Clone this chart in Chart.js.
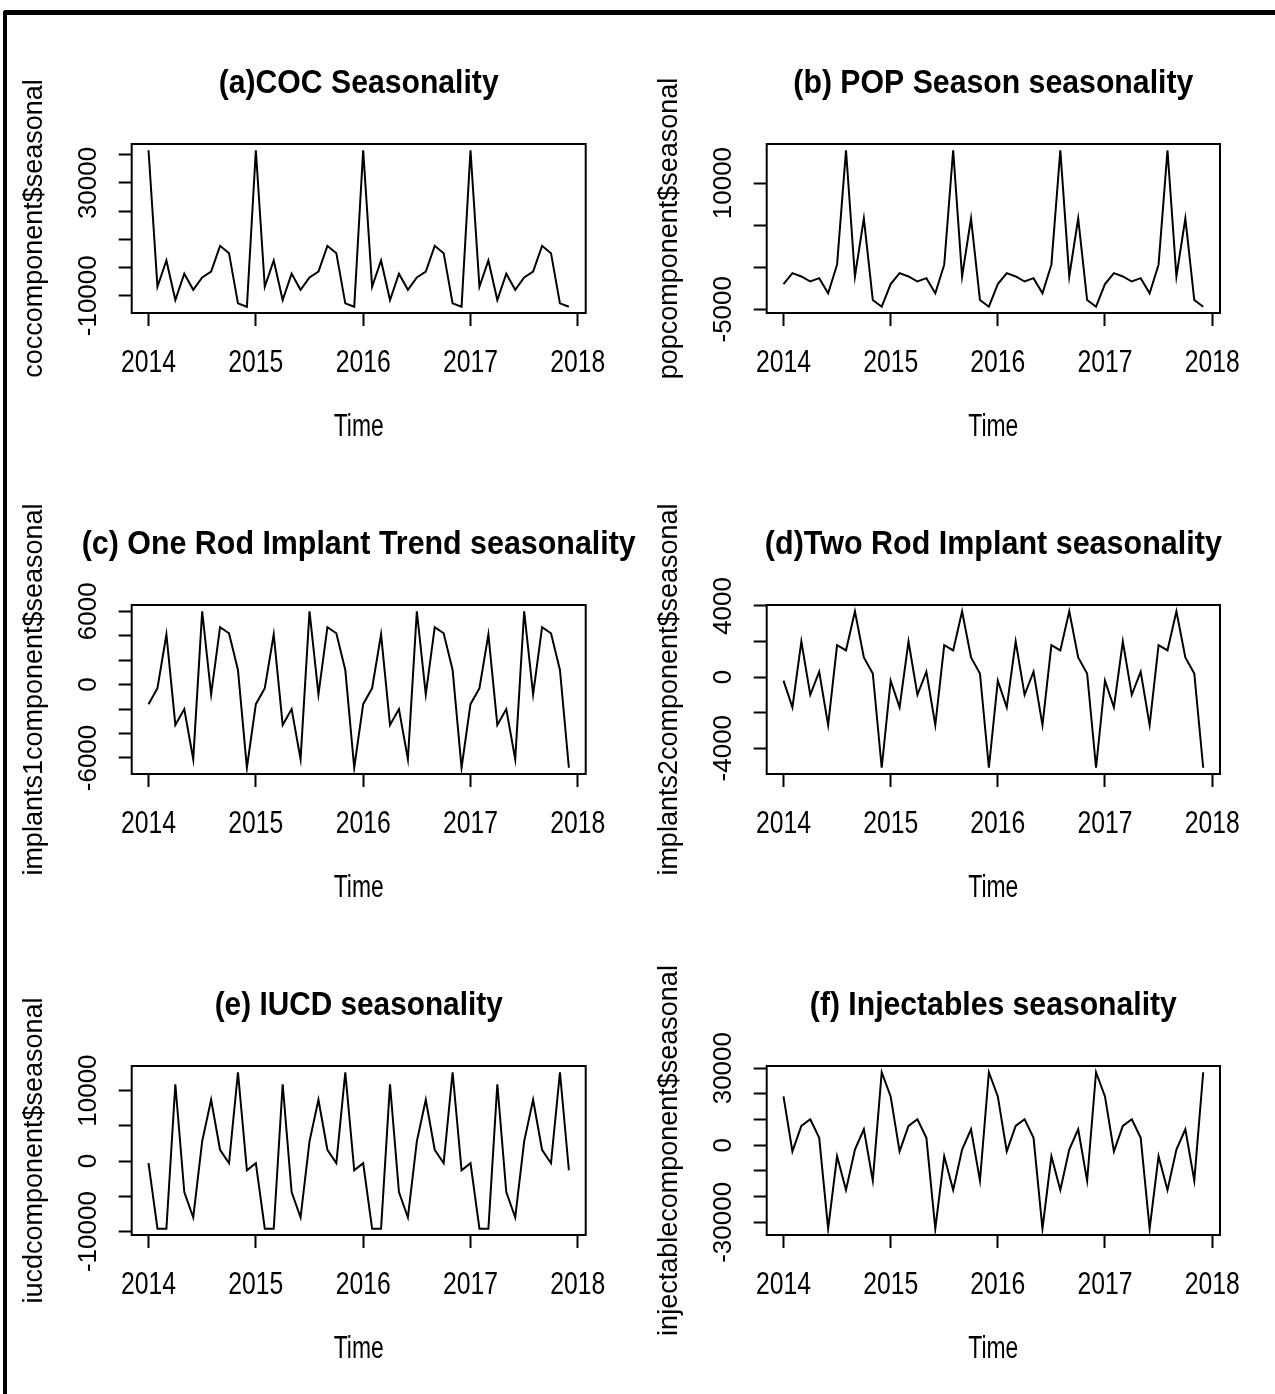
<!DOCTYPE html>
<html>
<head>
<meta charset="utf-8">
<title>Seasonality of contraceptive uptake</title>
<script src="https://cdn.jsdelivr.net/npm/chart.js@4.4.1/dist/chart.umd.min.js"></script>
<style>
  body { margin: 0; background: #fff; }
  #page { position: relative; width: 1275px; height: 1394px; overflow: hidden; }
  #frame {
    position: absolute; left: 3px; top: 10px; width: 1290px; height: 1400px;
    border-top: 5px solid #000; border-left: 4px solid #000; border-top-left-radius: 3px;
  }
  canvas { position: absolute; }
</style>
</head>
<body>
<div id="page">
  <div id="frame"></div>
  <canvas id="coc" width="637" height="461" style="left:0;top:0"></canvas>
  <canvas id="pop" width="638" height="461" style="left:637px;top:0"></canvas>
  <canvas id="imp1" width="637" height="461" style="left:0;top:461px"></canvas>
  <canvas id="imp2" width="638" height="461" style="left:637px;top:461px"></canvas>
  <canvas id="iucd" width="637" height="472" style="left:0;top:922px"></canvas>
  <canvas id="inj" width="638" height="472" style="left:637px;top:922px"></canvas>
</div>
<script>
// monthly seasonal components, Jan 2014 .. Dec 2017 (one row per year)
const years = [2014, 2015, 2016, 2017];
const xTicks = [2014, 2015, 2016, 2017, 2018];

const cocSeasonal = [
  41600, -6800, 2500, -11500, -2200, -7900, -3500, -1400, 7700, 5100, -12700, -13900,
  41600, -6800, 2500, -11500, -2200, -7900, -3500, -1400, 7700, 5100, -12700, -13900,
  41600, -6800, 2500, -11500, -2200, -7900, -3500, -1400, 7700, 5100, -12700, -13900,
  41600, -6800, 2500, -11500, -2200, -7900, -3500, -1400, 7700, 5100, -12700, -13900
];
const popSeasonal = [
  -2000, -700, -1100, -1700, -1300, -3100, 300, 13900, -1100, 5800, -3900, -4700,
  -2000, -700, -1100, -1700, -1300, -3100, 300, 13900, -1100, 5800, -3900, -4700,
  -2000, -700, -1100, -1700, -1300, -3100, 300, 13900, -1100, 5800, -3900, -4700,
  -2000, -700, -1100, -1700, -1300, -3100, 300, 13900, -1100, 5800, -3900, -4700
];
const implants1Seasonal = [
  -1600, -300, 4100, -3300, -2000, -6100, 6000, -800, 4700, 4200, 1200, -6800,
  -1600, -300, 4100, -3300, -2000, -6100, 6000, -800, 4700, 4200, 1200, -6800,
  -1600, -300, 4100, -3300, -2000, -6100, 6000, -800, 4700, 4200, 1200, -6800,
  -1600, -300, 4100, -3300, -2000, -6100, 6000, -800, 4700, 4200, 1200, -6800
];
const implants2Seasonal = [
  -200, -1700, 2000, -1000, 300, -2700, 1800, 1500, 3700, 1100, 200, -5100,
  -200, -1700, 2000, -1000, 300, -2700, 1800, 1500, 3700, 1100, 200, -5100,
  -200, -1700, 2000, -1000, 300, -2700, 1800, 1500, 3700, 1100, 200, -5100,
  -200, -1700, 2000, -1000, 300, -2700, 1800, 1500, 3700, 1100, 200, -5100
];
const iucdSeasonal = [
  -300, -9600, -9600, 10900, -4400, -8000, 2800, 8700, 1600, -300, 12600, -1300,
  -300, -9600, -9600, 10900, -4400, -8000, 2800, 8700, 1600, -300, 12600, -1300,
  -300, -9600, -9600, 10900, -4400, -8000, 2800, 8700, 1600, -300, 12600, -1300,
  -300, -9600, -9600, 10900, -4400, -8000, 2800, 8700, 1600, -300, 12600, -1300
];
const injectableSeasonal = [
  19000, -2400, 7500, 10100, 2900, -32500, -4300, -17400, -1700, 6200, -13800, 28400,
  19000, -2400, 7500, 10100, 2900, -32500, -4300, -17400, -1700, 6200, -13800, 28400,
  19000, -2400, 7500, 10100, 2900, -32500, -4300, -17400, -1700, 6200, -13800, 28400,
  19000, -2400, 7500, 10100, 2900, -32500, -4300, -17400, -1700, 6200, -13800, 28400
];

// y tick values and the labels R kept (blank = tick without label)
const cocTicks = [-10000, 0, 10000, 20000, 30000, 40000];
const cocTickLabels = ['-10000', '', '', '', '30000', ''];
const popTicks = [-5000, 0, 5000, 10000];
const popTickLabels = ['-5000', '', '', '10000'];
const implants1Ticks = [-6000, -4000, -2000, 0, 2000, 4000, 6000];
const implants1TickLabels = ['-6000', '', '', '0', '', '', '6000'];
const implants2Ticks = [-4000, -2000, 0, 2000, 4000];
const implants2TickLabels = ['-4000', '', '0', '', '4000'];
const iucdTicks = [-10000, -5000, 0, 5000, 10000];
const iucdTickLabels = ['-10000', '', '0', '', '10000'];
const injectableTicks = [-30000, -20000, -10000, 0, 10000, 20000, 30000];
const injectableTickLabels = ['-30000', '', '', '0', '', '', '30000'];

const FONT = '"Liberation Sans", Arial, sans-serif';

const panels = [
  { id: 'coc', title: '(a)COC Seasonality', titleW: 280, ylab: 'coccomponent$seasonal', ylabW: 302,
    values: cocSeasonal, ticks: cocTicks, tickLabels: cocTickLabels, left: 131.7, right: 51.3 },
  { id: 'pop', title: '(b) POP Season seasonality', titleW: 400, ylab: 'popcomponent$seasonal', ylabW: 302,
    values: popSeasonal, ticks: popTicks, tickLabels: popTickLabels, left: 129.7, right: 55 },
  { id: 'imp1', title: '(c) One Rod Implant Trend seasonality', titleW: 554, ylab: 'implants1component$seasonal', ylabW: 378,
    values: implants1Seasonal, ticks: implants1Ticks, tickLabels: implants1TickLabels, left: 131.7, right: 51.3 },
  { id: 'imp2', title: '(d)Two Rod Implant seasonality', titleW: 457, ylab: 'implants2component$seasonal', ylabW: 378,
    values: implants2Seasonal, ticks: implants2Ticks, tickLabels: implants2TickLabels, left: 129.7, right: 55 },
  { id: 'iucd', title: '(e) IUCD seasonality', titleW: 288, ylab: 'iucdcomponent$seasonal', ylabW: 310,
    values: iucdSeasonal, ticks: iucdTicks, tickLabels: iucdTickLabels, left: 131.7, right: 51.3 },
  { id: 'inj', title: '(f) Injectables seasonality', titleW: 367, ylab: 'injectablecomponent$seasonal', ylabW: 377,
    values: injectableSeasonal, ticks: injectableTicks, tickLabels: injectableTickLabels, left: 129.7, right: 55 }
];

function rotatedText(ctx, text, x, y, maxW) {
  ctx.save();
  ctx.translate(x, y);
  ctx.rotate(-Math.PI / 2);
  ctx.fillText(text, 0, 0, maxW);
  ctx.restore();
}

// R style frame, titles and labels
function rDecor(p) {
  return {
    id: 'rDecor',
    afterDraw(chart) {
      const { ctx, chartArea: a, scales } = chart;
      const cx = (a.left + a.right) / 2;
      const cy = (a.top + a.bottom) / 2;
      ctx.save();
      ctx.strokeStyle = '#000';
      ctx.lineWidth = 2;
      ctx.strokeRect(a.left, a.top, a.right - a.left, a.bottom - a.top);
      ctx.fillStyle = '#000';
      ctx.textAlign = 'center';
      ctx.textBaseline = 'middle';

      ctx.font = 'bold 33px ' + FONT;
      ctx.fillText(p.title, cx, a.top - 60, p.titleW);

      ctx.font = '31px ' + FONT;
      xTicks.forEach(v => ctx.fillText(String(v), scales.x.getPixelForValue(v), a.bottom + 50, 55));
      ctx.fillText('Time', cx, a.bottom + 114, 50);

      ctx.font = '26px ' + FONT;
      p.ticks.forEach((v, i) => {
        if (p.tickLabels[i]) rotatedText(ctx, p.tickLabels[i], a.left - 43, scales.y.getPixelForValue(v));
      });

      ctx.font = '27px ' + FONT;
      rotatedText(ctx, p.ylab, a.left - 97, cy, p.ylabW);
      ctx.restore();
    }
  };
}

panels.forEach(p => {
  const points = p.values.map((v, i) => ({ x: years[0] + i / 12, y: v }));
  const xFirst = years[0];
  const xLast = years[0] + (p.values.length - 1) / 12;
  const xPad = 0.04 * (xLast - xFirst);
  const yMin = Math.min(...p.values);
  const yMax = Math.max(...p.values);
  const yPad = 0.04 * (yMax - yMin);
  const canvas = document.getElementById(p.id);

  new Chart(canvas.getContext('2d'), {
    type: 'line',
    data: {
      datasets: [{
        data: points,
        borderColor: '#000',
        borderWidth: 2,
        pointRadius: 0,
        tension: 0,
        fill: false
      }]
    },
    options: {
      responsive: false,
      animation: false,
      layout: { padding: { top: 144, left: 0, right: p.right, bottom: 0 } },
      plugins: { legend: { display: false }, tooltip: { enabled: false } },
      scales: {
        x: {
          type: 'linear',
          bounds: 'data',
          min: xFirst - xPad,
          max: xLast + xPad,
          afterBuildTicks: s => { s.ticks = xTicks.map(v => ({ value: v })); },
          afterFit: s => { s.height = canvas.height - 313; },
          ticks: { display: false },
          border: { display: false },
          grid: { drawOnChartArea: false, drawTicks: true, tickLength: 13, tickWidth: 2, tickColor: '#000' }
        },
        y: {
          type: 'linear',
          bounds: 'data',
          min: yMin - yPad,
          max: yMax + yPad,
          afterBuildTicks: s => { s.ticks = p.ticks.map(v => ({ value: v })); },
          afterFit: s => { s.width = p.left; },
          ticks: { display: false },
          border: { display: false },
          grid: { drawOnChartArea: false, drawTicks: true, tickLength: 13, tickWidth: 2, tickColor: '#000' }
        }
      }
    },
    plugins: [rDecor(p)]
  });
});
</script>
</body>
</html>
